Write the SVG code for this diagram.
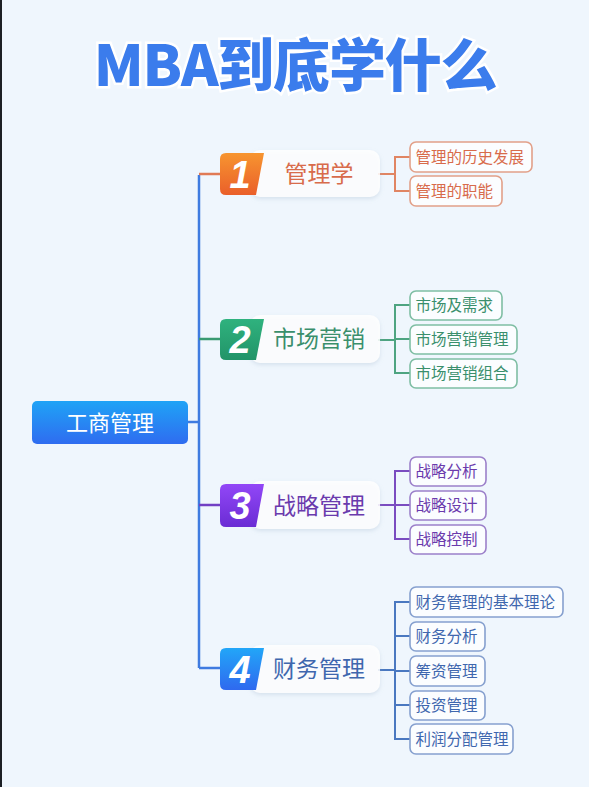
<svg xmlns="http://www.w3.org/2000/svg" width="589" height="787" viewBox="0 0 589 787">
<defs>
<linearGradient id="gRoot" x1="0" y1="0" x2="0" y2="1"><stop offset="0" stop-color="#1fa3f6"/><stop offset="1" stop-color="#2f6cf0"/></linearGradient>
<linearGradient id="gOr" x1="0" y1="0" x2="0" y2="1"><stop offset="0" stop-color="#f79530"/><stop offset="1" stop-color="#ea5f2a"/></linearGradient>
<linearGradient id="gGr" x1="0" y1="0" x2="0" y2="1"><stop offset="0" stop-color="#2fb27e"/><stop offset="1" stop-color="#229468"/></linearGradient>
<linearGradient id="gPu" x1="0" y1="0" x2="0" y2="1"><stop offset="0" stop-color="#9247f7"/><stop offset="1" stop-color="#6a2cd4"/></linearGradient>
<linearGradient id="gBl" x1="0" y1="0" x2="0" y2="1"><stop offset="0" stop-color="#22a6f8"/><stop offset="1" stop-color="#2f69ef"/></linearGradient>
<filter id="sh" x="-10%" y="-20%" width="120%" height="150%"><feDropShadow dx="0" dy="2" stdDeviation="2" flood-color="#9bb0c8" flood-opacity="0.35"/></filter>
</defs>
<style>
.cjk{font-family:"Noto Sans CJK SC","Noto Sans",sans-serif;}
.title{font-family:"Noto Sans CJK SC","Noto Sans",sans-serif;font-weight:900;font-size:57px;fill:#3b7cec;stroke:#ffffff;stroke-width:5;paint-order:stroke;letter-spacing:-1.2px;}
.pill{fill:#ffffff;fill-opacity:0.85;}
.num{font-family:"Liberation Sans","DejaVu Sans",sans-serif;font-weight:bold;font-style:italic;font-size:38px;fill:#ffffff;text-anchor:middle;}
.lbl{font-size:23px;text-anchor:middle;}
.sub{font-size:15.5px;}
.box{fill:#fbfdff;stroke-width:1.6;}
.ln{fill:none;stroke-width:2;}
.or .box{stroke:#e2a089;} .or text.t{fill:#d86b4b;} .or .ln{stroke:#e08563;}
.gr .box{stroke:#7fbea4;} .gr text.t{fill:#3a8f6c;} .gr .ln{stroke:#4ea481;}
.pu .box{stroke:#9c80ca;} .pu text.t{fill:#6a3aad;} .pu .ln{stroke:#7a4cc0;}
.bl .box{stroke:#86a0cf;} .bl text.t{fill:#3f67ae;} .bl .ln{stroke:#4a78c0;}
</style>
<rect width="589" height="787" fill="#eff6fd"/>
<rect x="0" y="0" width="2" height="787" fill="#1c1f24"/>
<text class="title" x="295" y="86" text-anchor="middle">MBA到底学什么</text>

<g id="connectors">
<path d="M187 422 H199" stroke="#3f7be0" stroke-width="2.5" fill="none"/>
<path d="M199 175 V668" stroke="#3f7be0" stroke-width="2.5" fill="none"/>
<path d="M199 174 H222" stroke="#e07a55" stroke-width="2.5" fill="none"/>
<path d="M199 339 H222" stroke="#3a9a72" stroke-width="2.5" fill="none"/>
<path d="M199 505 H222" stroke="#7240c4" stroke-width="2.5" fill="none"/>
<path d="M199 668 H222" stroke="#3f7be0" stroke-width="2.5" fill="none"/>
<g class="or"><path class="ln" d="M378 174 H395 M410 157 H395 V191 H410"/></g>
<g class="gr"><path class="ln" d="M378 340 H395 M410 305 H395 V373 H410 M395 339 H410"/></g>
<g class="pu"><path class="ln" d="M378 505 H395 M410 471 H395 V539 H410 M395 505 H410"/></g>
<g class="bl"><path class="ln" d="M378 670 H395 M410 602 H395 V739 H410 M395 636 H410 M395 671 H410 M395 705 H410"/></g>
</g>

<g id="root">
<rect x="32" y="401" width="156" height="43" rx="5" fill="url(#gRoot)"/>
<text class="cjk" x="110" y="431" font-size="22" fill="#ffffff" text-anchor="middle">工商管理</text>
</g>

<g id="b1" class="or">
<rect class="pill" x="250" y="150" width="130" height="47" rx="10" filter="url(#sh)"/>
<path d="M226 153 H264 L256 195 H226 Q220 195 220 189 V159 Q220 153 226 153 Z" fill="url(#gOr)"/>
<text class="num" x="240" y="188">1</text>
<text class="cjk lbl t" x="319" y="182">管理学</text>
</g>
<g id="b1s1" class="or"><rect class="box" x="410" y="142" width="122" height="30" rx="6"/><text class="cjk sub t" x="415.5" y="162.5">管理的历史发展</text></g>
<g id="b1s2" class="or"><rect class="box" x="410" y="176" width="92" height="30" rx="6"/><text class="cjk sub t" x="415.5" y="196.5">管理的职能</text></g>

<g id="b2" class="gr">
<rect class="pill" x="250" y="315" width="130" height="48" rx="10" filter="url(#sh)"/>
<path d="M226 319 H264 L256 360 H226 Q220 360 220 354 V325 Q220 319 226 319 Z" fill="url(#gGr)"/>
<text class="num" x="240" y="353">2</text>
<text class="cjk lbl t" x="319" y="347">市场营销</text>
</g>
<g id="b2s1" class="gr"><rect class="box" x="410" y="291" width="92" height="29" rx="6"/><text class="cjk sub t" x="415.5" y="311">市场及需求</text></g>
<g id="b2s2" class="gr"><rect class="box" x="410" y="325" width="107" height="29" rx="6"/><text class="cjk sub t" x="415.5" y="345">市场营销管理</text></g>
<g id="b2s3" class="gr"><rect class="box" x="410" y="359" width="107" height="29" rx="6"/><text class="cjk sub t" x="415.5" y="379">市场营销组合</text></g>

<g id="b3" class="pu">
<rect class="pill" x="250" y="481" width="130" height="48" rx="10" filter="url(#sh)"/>
<path d="M226 484 H264 L256 527 H226 Q220 527 220 521 V490 Q220 484 226 484 Z" fill="url(#gPu)"/>
<text class="num" x="240" y="519">3</text>
<text class="cjk lbl t" x="319" y="514">战略管理</text>
</g>
<g id="b3s1" class="pu"><rect class="box" x="410" y="457" width="76" height="29" rx="6"/><text class="cjk sub t" x="415.5" y="477">战略分析</text></g>
<g id="b3s2" class="pu"><rect class="box" x="410" y="491" width="76" height="29" rx="6"/><text class="cjk sub t" x="415.5" y="511">战略设计</text></g>
<g id="b3s3" class="pu"><rect class="box" x="410" y="525" width="76" height="29" rx="6"/><text class="cjk sub t" x="415.5" y="545">战略控制</text></g>

<g id="b4" class="bl">
<rect class="pill" x="250" y="645" width="130" height="48" rx="10" filter="url(#sh)"/>
<path d="M226 648 H264 L256 690 H226 Q220 690 220 684 V654 Q220 648 226 648 Z" fill="url(#gBl)"/>
<text class="num" x="240" y="683">4</text>
<text class="cjk lbl t" x="319" y="677">财务管理</text>
</g>
<g id="b4s1" class="bl"><rect class="box" x="410" y="587" width="153" height="30" rx="6"/><text class="cjk sub t" x="415.5" y="607.5">财务管理的基本理论</text></g>
<g id="b4s2" class="bl"><rect class="box" x="410" y="622" width="75" height="29" rx="6"/><text class="cjk sub t" x="415.5" y="642">财务分析</text></g>
<g id="b4s3" class="bl"><rect class="box" x="410" y="656" width="75" height="30" rx="6"/><text class="cjk sub t" x="415.5" y="676.5">筹资管理</text></g>
<g id="b4s4" class="bl"><rect class="box" x="410" y="691" width="75" height="29" rx="6"/><text class="cjk sub t" x="415.5" y="711">投资管理</text></g>
<g id="b4s5" class="bl"><rect class="box" x="410" y="724" width="103" height="30" rx="6"/><text class="cjk sub t" x="415.5" y="744.5">利润分配管理</text></g>
</svg>
